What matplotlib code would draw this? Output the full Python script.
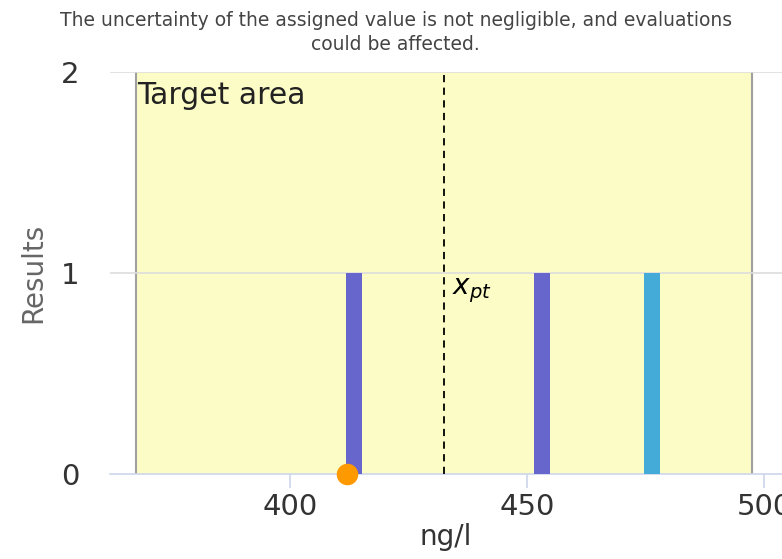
import matplotlib
matplotlib.use("Agg")
import matplotlib.pyplot as plt

# results (ng/l) and their counts
results = [413.5, 453.2, 476.4]
counts = [1, 1, 1]
bar_colors = ["#6666cc", "#6666cc", "#44aad8"]
assigned_value = 432.5
target_low, target_high = 367.5, 497.4
lab_result = 412.0

title = ("The uncertainty of the assigned value is not negligible, and evaluations\n"
         "could be affected.")

fig = plt.figure(figsize=(7.82, 5.59), dpi=100)
ax = fig.add_axes([0.1407, 0.152, 0.8593, 0.719])

ax.axvspan(target_low, target_high, color="#fcfdc6", zorder=0)
ax.axvline(target_low, color="#a0a0a0", lw=1.5, zorder=1)
ax.axvline(target_high, color="#a0a0a0", lw=1.5, zorder=1)

for y in [1, 2]:
    ax.axhline(y, color="#dddddd", lw=1.2, zorder=1)

ax.bar(results, counts, width=3.3, color=bar_colors, zorder=3)
ax.axvline(assigned_value, color="black", lw=1.3, ls=(0, (4, 3)), zorder=4)
ax.text(assigned_value + 1.6, 0.985, r"$x_{pt}$", fontsize=20, va="top", zorder=5)
ax.text(target_low + 0.2, 1.955, "Target area", fontsize=21.5, va="top", color="#222222", zorder=5)

ax.plot([lab_result], [0], "o", color="#ff9900", ms=14.5, clip_on=False, zorder=6)

ax.set_xlim(362, 503.8)
ax.set_ylim(0, 2)
ax.set_xticks([400, 450, 500])
ax.set_yticks([0, 1, 2])
for s in ["top", "right", "left"]:
    ax.spines[s].set_visible(False)
ax.spines["bottom"].set_color("#ccd6eb")
ax.spines["bottom"].set_linewidth(1.2)
ax.tick_params(axis="x", length=10, color="#ccd6eb", width=1.2, labelsize=21,
               labelcolor="#333333", pad=4)
ax.tick_params(axis="y", length=0, labelsize=21, labelcolor="#333333", pad=22)

ax.set_xlabel("ng/l", fontsize=20, color="#333333", labelpad=1)
ax.set_ylabel("Results", fontsize=20, color="#666666", labelpad=10)

fig.text(0.506, 0.98, title, ha="center", va="top", fontsize=13.5,
         color="#444444", linespacing=1.3)

fig.savefig("out.png", dpi=100)
